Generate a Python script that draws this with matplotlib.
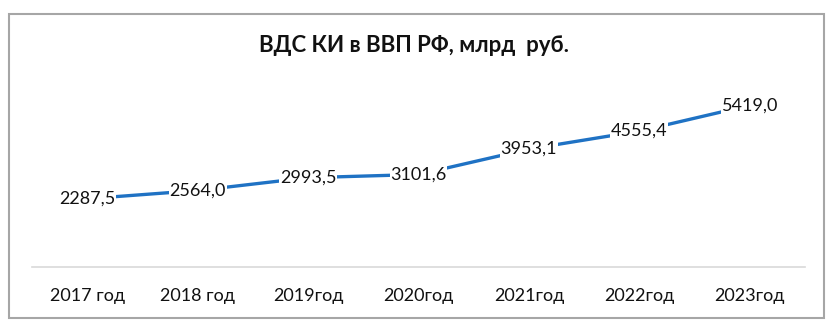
import matplotlib
matplotlib.use('Agg')
from matplotlib import pyplot as plt
from matplotlib.patches import Rectangle
import numpy as np

# data
years = ['2017 год', '2018 год', '2019год', '2020год', '2021год', '2022год', '2023год']
values = [2287.5, 2564.0, 2993.5, 3101.6, 3953.1, 4555.4, 5419.0]
title = 'ВДС КИ в ВВП РФ, млрд  руб.'

plt.rcParams['font.family'] = ['Lato', 'DejaVu Sans']

fig = plt.figure(figsize=(8.34, 3.26), dpi=100)
ax = fig.add_axes([32/834, 59/326, 773/834, 179/326])

x = np.arange(len(years))
ax.plot(x, values, color='#1F72C4', linewidth=2.4, solid_capstyle='round', zorder=2)

for i in range(len(values)):
    lbl = ('%.1f' % values[i]).replace('.', ',')
    ax.text(x[i], values[i], lbl, ha='center', va='center', fontsize=13, color='#111111',
            bbox=dict(facecolor='white', edgecolor='none', pad=0.5), zorder=3)

ax.set_xlim(-0.5, len(years) - 0.5)
ax.set_ylim(0, 6000)
ax.set_xticks(x)
ax.set_xticklabels(years, fontsize=13, color='#111111')
ax.tick_params(axis='x', length=0, pad=15)
ax.set_yticks([])
for s in ['top', 'left', 'right']:
    ax.spines[s].set_visible(False)
ax.spines['bottom'].set_color('#D9D9D9')
ax.spines['bottom'].set_linewidth(1.2)

fig.text(0.497, 1 - 46/326, title, ha='center', va='center', fontsize=16, fontweight='bold', color='#111111')

# chart border
fig.patches.append(Rectangle((9/834, 8/326), 815/834, 304/326, transform=fig.transFigure,
                             fill=False, edgecolor='#A6A6A6', linewidth=1.5))

fig.savefig('out.png', dpi=100)
